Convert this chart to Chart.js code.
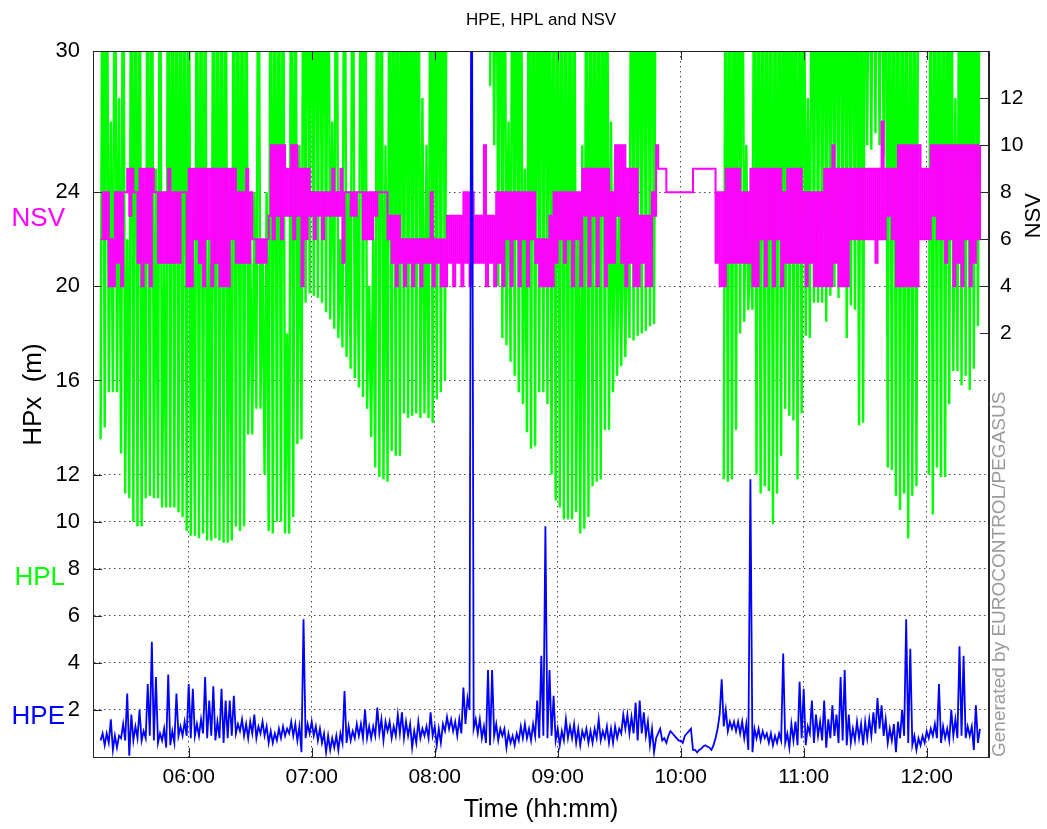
<!DOCTYPE html>
<html>
<head>
<meta charset="utf-8">
<title>HPE, HPL and NSV</title>
<script src="https://cdn.jsdelivr.net/npm/chart.js@4.4.1/dist/chart.umd.min.js"></script>
<style>
  html, body { margin: 0; padding: 0; background: #fff; }
  canvas { display: block; }
</style>
</head>
<body>
<canvas id="chart" width="1047" height="829"></canvas>
<script>
// samples every 2 minutes, time in minutes after midnight
const sampleStart = 317;
const sampleStep = 2;

const hourTicks = [360, 420, 480, 540, 600, 660, 720];
const hpxTicks = [2, 4, 6, 8, 10, 12, 16, 20, 24, 30];
const nsvTicks = [2, 4, 6, 8, 10, 12];

// HPL: lower envelope and upper reach of each sample (m), null = no data on plot
const hplLow = [
  13.5, 14, 15.5, 15.5, 15.5, 12.9, 11.2, 11, 10, 9.8,
  9.8, 11, 11.1, 11, 11, 10.6, 10.6, 10.6, 10.6, 10.4,
  10.2, 9.6, 9.4, 9.4, 9.3, 9.5, 9.2, 9.2, 9.3, 9.2,
  9.1, 9.1, 9.2, 9.8, 9.6, 9.8, 13.7, 13.7, 14.8, 14.8,
  12, 9.6, 9.5, 10, 10, 9.5, 9.5, 10.2, 13.3, 13.5,
  19.3, 19.7, 19.6, 19.5, 19.3, 18.9, 18.6, 18.2, 17.8, 17.4,
  17, 16.5, 16.1, 15.7, 15.3, 14.8, 13.6, 12.3, 11.9, 11.8,
  11.7, 13, 12.8, 12.8, 14.6, 14.4, 14.5, 14.6, 14.4, 14.6,
  14.4, 14.2, 15.2, 15.5, 16, null, null, null, null, null,
  null, null, null, null, null, 28.5, 26, 20, 17.8, 17.5,
  16.8, 16.2, 15.5, 15, 13.8, 13.1, 13.2, 15.5, 15.5, 15,
  12, 10.9, 10.6, 10.1, 10.1, 10.1, 10.4, 9.5, 9.7, 10.2,
  11.5, 11.7, 11.8, 13.9, 13.9, 15.5, 16.2, 16.6, 17, 17.8,
  17.7, 17.9, 18, 18.1, 18.3, 18.4, null, null, null, null,
  null, null, null, null, null, null, null, null, null, null,
  null, null, 11.8, 11.7, 11.8, 13.9, 18, 18.5, 19, 19,
  12, 11.2, 11.5, 11.3, 9.9, 11.2, 12.8, 14.8, 14.5, 14.3,
  11.8, 14.6, 17.9, 17.8, 19.3, 19.3, 19.3, 18.5, 19.6, 20,
  19.5, 20.5, 17.8, 19.2, 19, 14.1, 14.2, 26, 25.8, 26.5,
  26, 25.5, 12.3, 12.2, 11.1, 10.5, 11.2, 9.3, 11.1, 11.5,
  null, null, 12, 10.3, 12.3, 11.9, 11.9, 15, 16.4, 16.4,
  15.8, 16.2, 15.6, 16.5, 18.3
];
const hplHigh = [
  40, 40, 27, 40, 28, 40, 22, 40, 40, 40,
  24, 40, 40, 25, 40, 21, 40, 40, 40, 40,
  40, 40, 23, 40, 40, 40, 22, 40, 40, 40,
  40, 24, 40, 40, 40, 40, 22, 24, 40, 22,
  24, 40, 40, 40, 40, 18, 40, 40, 26, 40,
  40, 40, 40, 40, 40, 40, 27, 40, 22, 40,
  24, 40, 24, 40, 40, 20, 22, 40, 40, 26,
  40, 40, 40, 40, 40, 40, 40, 40, 28, 26,
  40, 40, 40, 40, 40, null, null, null, null, null,
  null, null, null, null, null, 40, 40, 40, 40, 27,
  40, 40, 40, 25, 40, 40, 40, 40, 40, 40,
  40, 40, 40, 40, 40, 40, 24, 26, 40, 40,
  40, 40, 40, 40, 27, 26, 25, 25, 24, 40,
  40, 40, 40, 40, 40, 40, null, null, null, null,
  null, null, null, null, null, null, null, null, null, null,
  null, null, 40, 40, 40, 40, 40, 26, 22, 40,
  40, 40, 40, 40, 40, 40, 40, 40, 40, 40,
  40, 40, 28, 40, 40, 40, 40, 40, 40, 40,
  40, 40, 40, 40, 40, 40, 40, 40, 40, 40,
  40, 40, 40, 40, 40, 40, 40, 40, 40, 40,
  null, null, 40, 40, 40, 40, 40, 40, 28, 40,
  40, 40, 40, 40, 40
];

// NSV: lowest and highest satellite count inside each sample
const nsvLow = [
  6, 6, 4, 4, 5, 4, 8, 7, 8, 5,
  4, 5, 4, 8, 5, 5, 5, 5, 5, 5,
  8, 4, 4, 6, 5, 4, 6, 4, 5, 4,
  4, 4, 6, 5, 5, 5, 5, 6, 5, 5,
  5, 7, 6, 7, 6, 7, 7, 6, 7, 4,
  6, 7, 6, 7, 6, 7, 7, 7, 7, 5,
  8, 7, 7, 8, 6, 6, 6, 7, 8, 8,
  6, 5, 4, 5, 4, 5, 4, 5, 4, 5,
  5, 4, 5, 4, 4, 5, 4, 5, 4, 5,
  4, 5, 5, 5, 4, 5, 4, 5, 4, 6,
  4, 6, 4, 6, 4, 6, 5, 4, 4, 4,
  4, 5, 6, 5, 6, 4, 6, 4, 7, 4,
  7, 4, 7, 4, 5, 5, 7, 5, 4, 5,
  4, 4, 5, 4, 4, 7, 9, 9, 8, 8,
  8, 8, 8, 8, 8, 9, 9, 9, 9, 9,
  5, 4, 4, 5, 5, 5, 5, 5, 5, 4,
  4, 6, 4, 6, 4, 6, 4, 5, 5, 5,
  5, 5, 4, 5, 4, 4, 4, 4, 4, 5,
  4, 4, 4, 6, 6, 6, 6, 6, 6, 5,
  6, 6, 7, 6, 4, 4, 4, 4, 4, 4,
  6, 6, 6, 7, 6, 6, 5, 6, 4, 5,
  4, 6, 4, 5, 6
];
const nsvHigh = [
  8, 8, 6, 8, 8, 8, 9, 9, 8, 9,
  9, 9, 9, 8, 8, 8, 9, 8, 8, 8,
  8, 9, 9, 9, 9, 9, 9, 9, 9, 9,
  9, 9, 9, 8, 8, 9, 8, 6, 6, 6,
  6, 10, 10, 10, 10, 9, 10, 10, 9, 9,
  9, 8, 8, 8, 8, 8, 9, 8, 9, 8,
  8, 8, 8, 8, 8, 8, 8, 8, 8, 8,
  7, 7, 7, 6, 6, 6, 6, 6, 6, 6,
  8, 6, 6, 6, 7, 7, 7, 7, 8, 8,
  8, 7, 7, 10, 7, 7, 8, 8, 8, 8,
  8, 8, 8, 8, 8, 8, 6, 6, 6, 7,
  8, 8, 8, 8, 8, 8, 8, 9, 9, 9,
  9, 9, 9, 9, 8, 10, 10, 10, 9, 9,
  9, 7, 7, 7, 8, 10, 9, 9, 8, 8,
  8, 8, 8, 8, 9, 9, 9, 9, 9, 9,
  8, 8, 9, 9, 9, 9, 8, 8, 9, 9,
  9, 9, 9, 9, 9, 9, 8, 9, 9, 9,
  9, 8, 8, 8, 8, 8, 9, 9, 10, 9,
  9, 9, 9, 9, 9, 9, 9, 9, 9, 9,
  11, 9, 9, 9, 10, 10, 10, 10, 10, 10,
  9, 9, 10, 10, 10, 10, 10, 10, 10, 10,
  10, 10, 10, 10, 10
];

// HPE: lower and upper value of each sample (m)
const hpeLow = [
  0.7, 0.5, 0.6, 0.3, 0.4, 0.8, 0.7, 0.05, 0.7, 0.8,
  0.7, 0.8, 0.9, 0.7, 0.6, 0.7, 0.4, 0.5, 0.6, 0.9,
  0.9, 0.9, 0.8, 0.9, 0.9, 1.0, 0.8, 0.9, 0.7, 0.8,
  0.6, 0.8, 0.9, 1.0, 1.1, 0.9, 0.8, 1.0, 0.8, 1.0,
  0.9, 0.6, 0.6, 0.7, 0.8, 0.9, 1.0, 0.9, 0.7, 0.2,
  0.8, 1.0, 0.9, 0.7, 0.6, 0.2, 0.3, 0.4, 0.3, 0.6,
  0.6, 0.7, 0.8, 0.9, 0.8, 0.8, 0.8, 0.9, 1.0, 0.7,
  1.1, 0.8, 0.9, 1.0, 0.8, 0.9, 0.4, 0.6, 0.8, 0.9,
  0.8, 0.9, 0.5, 0.6, 1.1, 1.2, 1.1, 0.9, 1.0, 1.4,
  2.0, 1.2, 1.0, 0.8, 0.6, 0.5, 0.9, 0.7, 0.9, 0.4,
  0.6, 0.5, 0.7, 0.8, 0.8, 0.7, 0.9, 0.8, 0.9, 0.8,
  0.9, 0.7, 0.5, 0.7, 0.8, 0.8, 0.6, 0.5, 0.8, 0.6,
  0.6, 0.8, 0.7, 0.8, 0.6, 0.6, 0.8, 1.0, 1.2, 1.0,
  1.0, 0.7, 1.0, 0.9, 0.5, 0.2, 1.0, 0.7, 0.6, 1.1,
  0.9, 0.7, 0.6, 1.0, 1.2, 0.3, 0.3, 0.45, 0.45, 0.3,
  0.8, 1.8, 1.3, 1.1, 1.2, 1.1, 1.0, 0.8, 0.3, 0.2,
  0.8, 0.7, 0.8, 0.6, 0.5, 0.6, 0.7, 0.6, 0.4, 0.7,
  0.5, 0.8, 0.5, 1.0, 0.6, 0.9, 0.7, 0.4, 0.8, 0.9,
  0.6, 0.7, 0.5, 0.6, 0.7, 0.8, 0.5, 0.8, 0.9, 1.0,
  1.2, 0.9, 0.6, 0.7, 0.2, 0.8, 0.9, 0.6, 0.5, 0.3,
  0.5, 0.6, 0.8, 0.9, 0.8, 0.6, 0.8, 0.7, 0.9, 0.8,
  0.9, 0.8, 0.9, 0.3, 0.6
];
const hpeHigh = [
  1.0, 1.0, 1.6, 0.9, 0.9, 1.4, 2.7, 1.8, 1.3, 2.0,
  1.1, 3.1, 4.9, 3.4, 1.0, 1.2, 3.5, 1.1, 2.7, 1.3,
  1.5, 3.1, 2.9, 1.4, 1.6, 3.4, 2.4, 3.0, 1.5, 2.9,
  2.4, 2.4, 2.6, 1.4, 1.6, 1.4, 1.5, 1.8, 1.3, 1.5,
  1.3, 1.1, 1.0, 1.2, 1.3, 1.2, 1.5, 1.4, 1.3, 5.85,
  1.4, 1.5, 1.3, 1.2, 1.0, 0.9, 0.8, 0.9, 1.0, 2.8,
  1.3, 1.1, 1.4, 1.4, 2.0, 1.3, 1.3, 2.1, 1.6, 1.5,
  1.5, 1.3, 1.8, 1.9, 1.5, 1.4, 1.1, 1.5, 1.2, 1.3,
  1.9, 1.3, 1.2, 1.4, 1.7, 1.6, 1.5, 1.6, 2.95, 2.5,
  40, 1.6, 1.6, 1.3, 3.7, 3.7, 1.4, 1.2, 1.2, 1.0,
  0.9, 1.0, 1.3, 1.4, 1.2, 1.4, 2.4, 4.3, 9.8, 3.7,
  2.6, 1.2, 1.1, 1.6, 1.3, 1.4, 1.2, 1.1, 1.2, 1.1,
  1.2, 1.6, 1.1, 1.3, 1.2, 1.3, 1.2, 1.8, 1.8, 1.7,
  2.3, 2.4, 1.9, 1.5, 1.2, 0.8, 1.2, 0.8, 0.9, 1.0,
  0.8, 0.7, 0.9, 1.1, 0.3, 0.2, 0.35, 0.5, 0.4, 0.5,
  1.2, 3.3, 2.0, 1.5, 1.5, 1.5, 1.5, 1.4, 11.8, 1.2,
  1.2, 1.1, 1.0, 1.0, 0.9, 1.0, 4.4, 1.0, 1.4, 1.5,
  3.2, 2.9, 1.3, 2.4, 1.8, 1.5, 2.4, 1.6, 2.2, 1.8,
  3.4, 3.7, 1.8, 1.2, 1.5, 1.4, 1.5, 1.6, 1.9, 2.5,
  2.2, 1.6, 1.2, 1.4, 1.5, 2.0, 5.85, 4.6, 0.9, 0.8,
  0.9, 1.1, 1.2, 1.4, 3.1, 1.3, 1.2, 2.0, 1.6, 4.7,
  4.3, 1.3, 1.3, 2.2, 1.2
];

const FONT = "'Liberation Sans', Arial, Helvetica, sans-serif";
const GRID = "#4a4a4a";
const AXIS = "#262626";

// each sample becomes two points: its low value, then its high value half a step later
function sawPoints(lows, highs) {
  const points = [];
  lows.forEach((low, i) => {
    const t = sampleStart + i * sampleStep;
    if (low === null) {
      points.push({ x: t, y: null });
      return;
    }
    points.push({ x: t, y: low });
    points.push({ x: t + sampleStep / 2, y: highs[i] });
  });
  return points;
}

function hhmm(minutes) {
  const h = Math.floor(minutes / 60);
  const m = Math.round(minutes % 60);
  return `${String(h).padStart(2, "0")}:${String(m).padStart(2, "0")}`;
}

const frame = {
  id: "frame",
  afterDraw(chart) {
    const { ctx, chartArea: area, scales } = chart;
    const { x, y, y1 } = scales;
    ctx.save();

    // box
    ctx.strokeStyle = AXIS;
    ctx.lineWidth = 1;
    ctx.strokeRect(area.left + 0.5, area.top + 0.5, area.right - area.left - 1, area.bottom - area.top);

    // inward ticks
    ctx.beginPath();
    hourTicks.forEach((v) => {
      const px = Math.round(x.getPixelForValue(v)) + 0.5;
      ctx.moveTo(px, area.bottom);
      ctx.lineTo(px, area.bottom - 9);
      ctx.moveTo(px, area.top);
      ctx.lineTo(px, area.top + 9);
    });
    hpxTicks.forEach((v) => {
      const py = Math.round(y.getPixelForValue(v)) + 0.5;
      ctx.moveTo(area.left, py);
      ctx.lineTo(area.left + 9, py);
    });
    nsvTicks.forEach((v) => {
      const py = Math.round(y1.getPixelForValue(v)) + 0.5;
      ctx.moveTo(area.right, py);
      ctx.lineTo(area.right - 9, py);
    });
    ctx.stroke();

    // title
    ctx.fillStyle = "#000";
    ctx.font = `17px ${FONT}`;
    ctx.textAlign = "center";
    ctx.textBaseline = "middle";
    ctx.fillText("HPE, HPL and NSV", (area.left + area.right) / 2, 20);

    // x axis title
    ctx.font = `25px ${FONT}`;
    ctx.fillText("Time (hh:mm)", (area.left + area.right) / 2, 810);

    // series labels in the left margin
    ctx.font = `26px ${FONT}`;
    ctx.textAlign = "right";
    [
      { text: "NSV", value: 22.85, color: "#ff00ff" },
      { text: "HPL", value: 7.6, color: "#00ff00" },
      { text: "HPE", value: 1.7, color: "#0000ff" },
    ].forEach((label) => {
      ctx.fillStyle = label.color;
      ctx.fillText(label.text, 65, y.getPixelForValue(label.value));
    });

    // rotated axis titles
    ctx.fillStyle = "#000";
    ctx.textAlign = "center";
    ctx.save();
    ctx.translate(34, y.getPixelForValue(15.4));
    ctx.rotate(-Math.PI / 2);
    ctx.font = `26px ${FONT}`;
    ctx.fillText("HPx  (m)", 0, 0);
    ctx.restore();

    ctx.save();
    ctx.translate(1034, y1.getPixelForValue(7));
    ctx.rotate(-Math.PI / 2);
    ctx.font = `22px ${FONT}`;
    ctx.fillText("NSV", 0, 0);
    ctx.restore();

    ctx.save();
    ctx.fillStyle = "#9a9a9a";
    ctx.font = `19px ${FONT}`;
    ctx.textAlign = "left";
    ctx.textBaseline = "middle";
    ctx.translate(1000, area.bottom);
    ctx.rotate(-Math.PI / 2);
    ctx.fillText("Generated by EUROCONTROL/PEGASUS", 0, 0);
    ctx.restore();

    ctx.restore();
  },
};

new Chart(document.getElementById("chart"), {
  type: "line",
  data: {
    datasets: [
      {
        label: "HPE",
        data: sawPoints(hpeLow, hpeHigh),
        yAxisID: "y",
        borderColor: "#0000ff",
        borderWidth: 1.8,
        order: 1,
      },
      {
        label: "NSV",
        data: sawPoints(nsvLow, nsvHigh),
        yAxisID: "y1",
        borderColor: "#ff00ff",
        borderWidth: 2,
        stepped: true,
        order: 2,
      },
      {
        label: "HPL",
        data: sawPoints(hplLow, hplHigh),
        yAxisID: "y",
        borderColor: "#00ff00",
        borderWidth: 2.4,
        order: 3,
      },
    ],
  },
  options: {
    responsive: false,
    animation: false,
    devicePixelRatio: 1,
    parsing: false,
    spanGaps: false,
    events: [],
    layout: { padding: { top: 51, left: 0, right: 0, bottom: 0 } },
    elements: {
      point: { radius: 0 },
      line: { tension: 0, fill: false },
    },
    datasets: { line: { clip: 0 } },
    plugins: {
      legend: { display: false },
      title: { display: false },
      tooltip: { enabled: false },
    },
    scales: {
      x: {
        type: "linear",
        min: 313.3,
        max: 750.4,
        afterBuildTicks: (scale) => {
          scale.ticks = hourTicks.map((value) => ({ value }));
        },
        afterFit: (scale) => {
          scale.height = 72;
        },
        ticks: {
          callback: (value) => hhmm(value),
          color: "#000",
          font: { family: FONT, size: 21 },
          padding: 8,
          maxRotation: 0,
          autoSkip: false,
        },
        grid: { color: GRID, lineWidth: 1, drawTicks: false },
        border: { display: true, color: AXIS, dash: [1.5, 3.5] },
      },
      y: {
        type: "linear",
        position: "left",
        min: 0,
        max: 30,
        afterBuildTicks: (scale) => {
          scale.ticks = hpxTicks.map((value) => ({ value }));
        },
        afterFit: (scale) => {
          scale.width = 93;
        },
        ticks: {
          color: "#000",
          font: { family: FONT, size: 22 },
          padding: 13,
          autoSkip: false,
        },
        grid: { color: GRID, lineWidth: 1, drawTicks: false },
        border: { display: true, color: AXIS, dash: [1.5, 3.5] },
      },
      y1: {
        type: "linear",
        position: "right",
        min: -16,
        max: 14,
        afterBuildTicks: (scale) => {
          scale.ticks = nsvTicks.map((value) => ({ value }));
        },
        afterFit: (scale) => {
          scale.width = 58;
        },
        ticks: {
          color: "#000",
          font: { family: FONT, size: 21 },
          padding: 11,
          autoSkip: false,
        },
        grid: { display: false, drawTicks: false },
        border: { display: true, color: AXIS },
      },
    },
  },
  plugins: [frame],
});
</script>
</body>
</html>
